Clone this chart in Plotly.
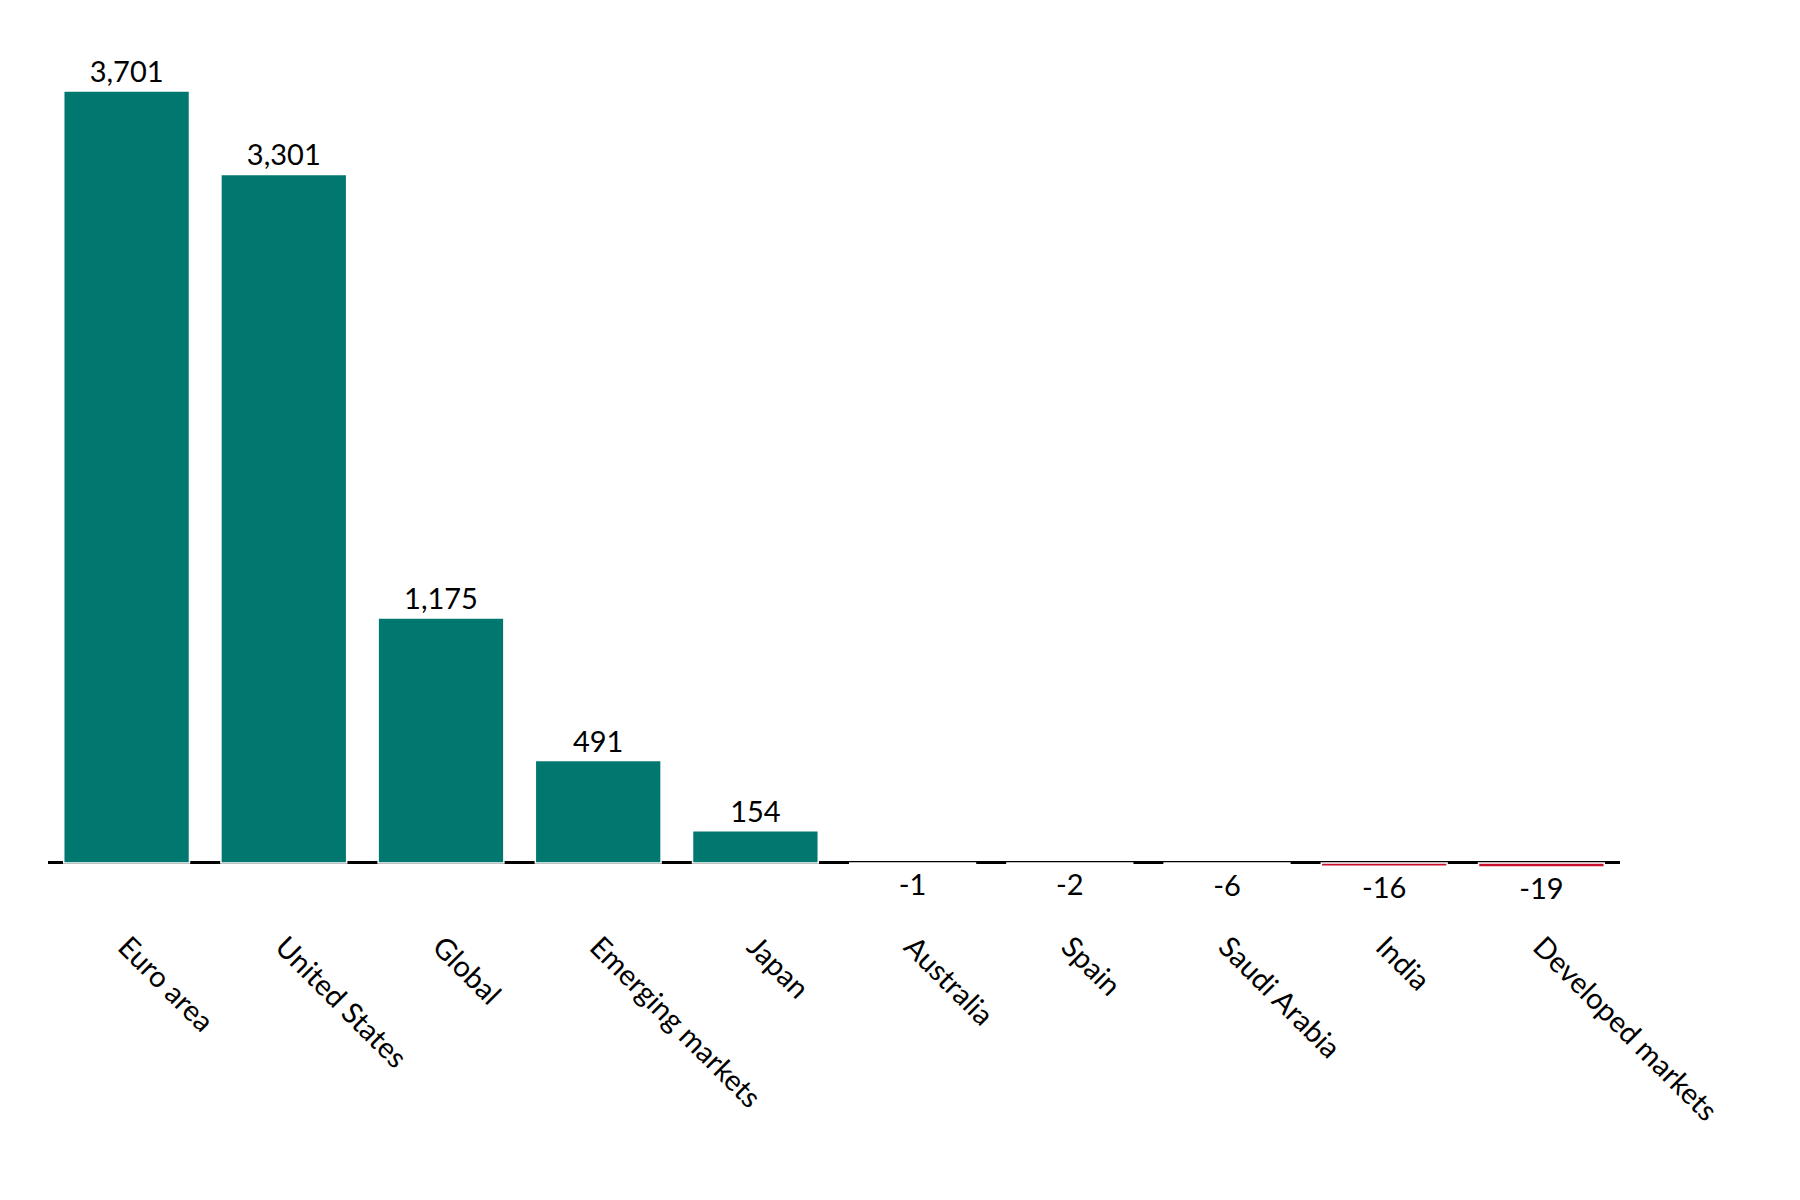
import plotly.graph_objects as go

categories = ["Euro area", "United States", "Global", "Emerging markets", "Japan",
              "Australia", "Spain", "Saudi Arabia", "India", "Developed markets"]
values = [3701, 3301, 1175, 491, 154, -1, -2, -6, -16, -19]

teal = "#00786F"
grey = "#B5B5B5"
red = "#C8102E"
colors = [teal if v > 0 else (red if v <= -10 else grey) for v in values]

fig = go.Figure(go.Bar(
    x=categories,
    y=values,
    marker=dict(color=colors, line=dict(color="white", width=1.5)),
    text=[f"{v:,}" for v in values],
    textposition="outside",
    cliponaxis=False,
    textfont=dict(size=29, color="black", family="Lato"),
))

fig.update_layout(
    width=1800,
    height=1200,
    template="plotly_white",
    plot_bgcolor="white",
    paper_bgcolor="white",
    margin=dict(l=40, r=188, t=40, b=330),
    bargap=0.2,
    showlegend=False,
    font=dict(family="Lato", size=29, color="black"),
)
fig.update_xaxes(
    tickangle=45,
    showgrid=False,
    showline=False,
    ticks="",
    ticklabelstandoff=45,
    tickfont=dict(size=29, color="black"),
)
fig.update_yaxes(
    range=[-72, 3907],
    visible=True,
    showticklabels=False,
    showgrid=False,
    zeroline=True,
    zerolinecolor="black",
    zerolinewidth=3,
)

fig.write_html("out.html")
